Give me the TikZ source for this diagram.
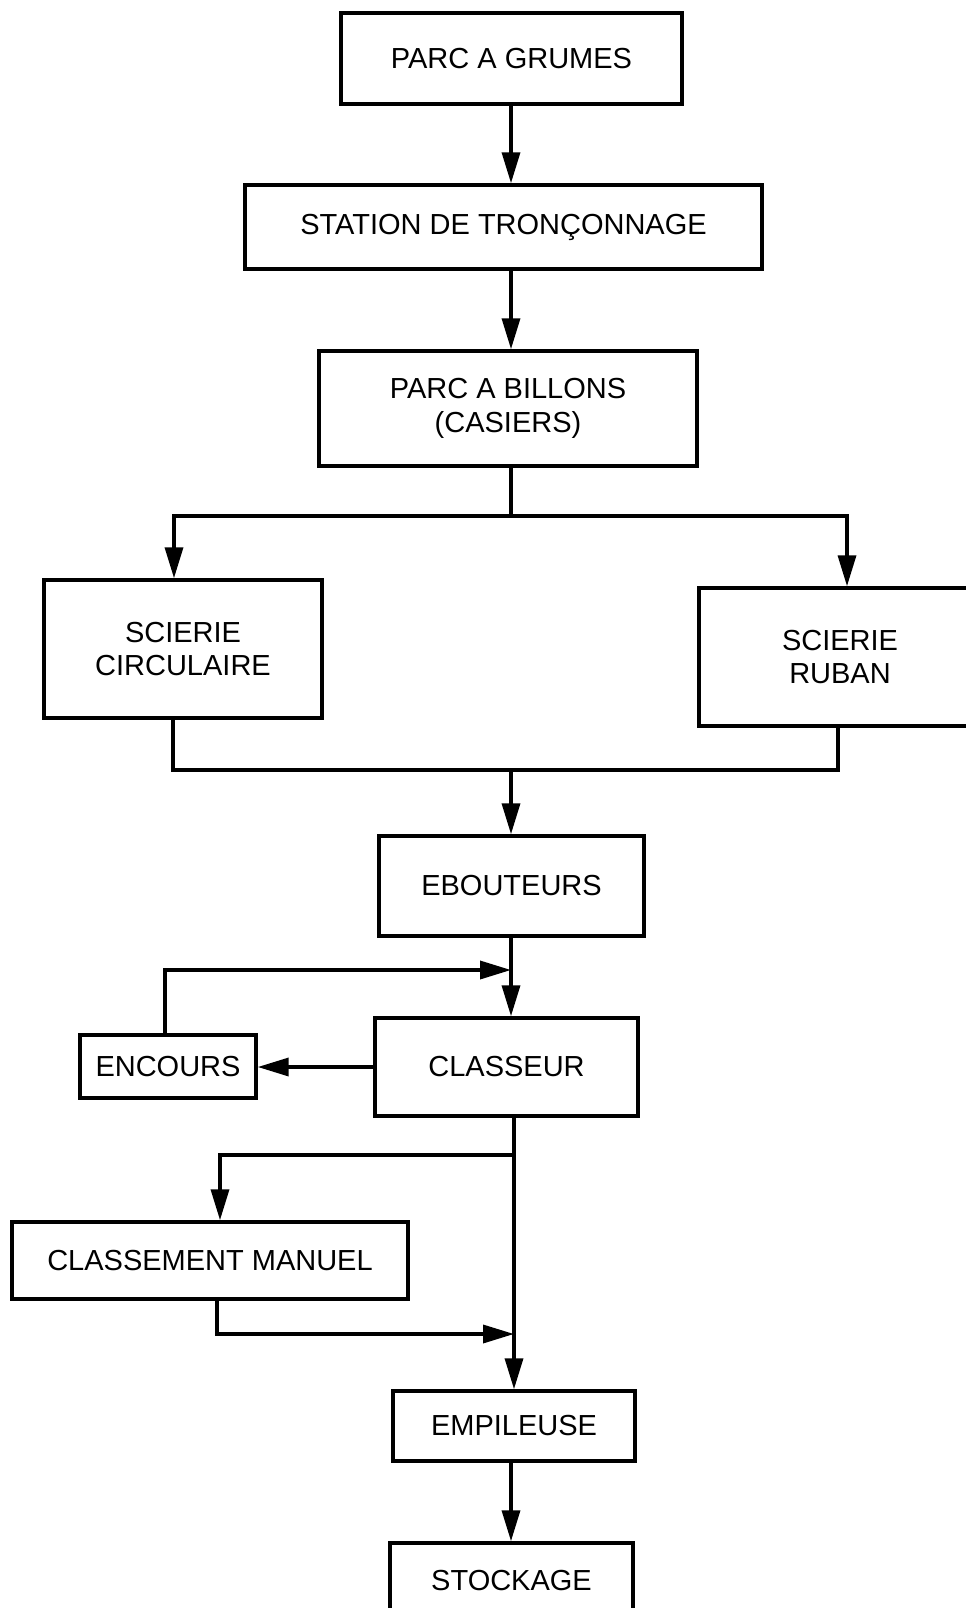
\documentclass[tikz,border=0pt]{standalone}
\usepackage{fontspec}
\setmainfont{Liberation Sans}
\usetikzlibrary{arrows.meta}

\tikzset{
  bloc/.style={draw, line width=2pt, align=center, inner sep=0pt,
    font=\fontsize{16.5}{19}\selectfont},
}

\begin{document}
\begin{tikzpicture}[x=0.02cm, y=-0.02cm, line width=2pt, >={Triangle[length=0.62cm, width=0.36cm]}]
    % cadre de la page
    \useasboundingbox (0,0) rectangle (966,1608);
    \clip (0,0) rectangle (966,1608);

    % axes verticaux de la chaine
    \coordinate (axe) at (511,0);
    \coordinate (axeb) at (514,0);

    % postes
    \node[bloc, minimum width=6.82cm, minimum height=1.82cm] (grumes) at (511.5,58.5) {PARC A GRUMES};
    \node[bloc, minimum width=10.34cm, minimum height=1.68cm] (station) at (503.5,227) {STATION DE TRONÇONNAGE};
    \node[bloc, minimum width=7.56cm, minimum height=2.30cm] (billons) at (508,408.5) {PARC A BILLONS\\(CASIERS)};
    \node[bloc, minimum width=5.56cm, minimum height=2.76cm] (circulaire) at (183,649) {SCIERIE\\CIRCULAIRE};
    \node[bloc, minimum width=5.64cm, minimum height=2.76cm] (ruban) at (840,657) {SCIERIE\\RUBAN};
    \node[bloc, minimum width=5.30cm, minimum height=2.00cm] (ebouteurs) at (511.5,886) {EBOUTEURS};
    \node[bloc, minimum width=3.52cm, minimum height=1.26cm] (encours) at (168,1066.5) {ENCOURS};
    \node[bloc, minimum width=5.26cm, minimum height=1.96cm] (classeur) at (506.5,1067) {CLASSEUR};
    \node[bloc, minimum width=7.92cm, minimum height=1.54cm] (manuel) at (210,1260.5) {CLASSEMENT MANUEL};
    \node[bloc, minimum width=4.84cm, minimum height=1.40cm] (empileuse) at (514,1426) {EMPILEUSE};
    \node[bloc, minimum width=4.86cm, minimum height=1.52cm] (stockage) at (511.5,1581) {STOCKAGE};

    % partie haute
    \draw[->] (axe |- grumes.south) -- (axe |- station.north);
    \draw[->] (axe |- station.south) -- (axe |- billons.north);

    % repartition vers les scies
    \coordinate (sL) at (174,516);
    \coordinate (sR) at (847,516);
    \draw (axe |- billons.south) -- (axe |- sL);
    \draw[->] (axe |- sL) -- (sL) -- (sL |- circulaire.north);
    \draw[->] (axe |- sR) -- (sR) -- (sR |- ruban.north);

    % regroupement apres les scies
    \coordinate (jL) at (173,770);
    \coordinate (jR) at (838,770);
    \draw (jL |- circulaire.south) -- (jL) -- (jR) -- (jR |- ruban.south);
    \draw[->] (axe |- jL) -- (axe |- ebouteurs.north);

    % classeur et encours
    \coordinate (retour) at (165,970);
    \draw[->] (axe |- ebouteurs.south) -- (axe |- classeur.north);
    \draw[->] (classeur.west) -- (classeur.west -| encours.east);
    \draw[->] (retour |- encours.north) -- (retour) -- (axe |- retour);

    % classement manuel
    \coordinate (tri) at (220,1155);
    \coordinate (retri) at (217,1334);
    \draw[->] (axeb |- classeur.south) -- (axeb |- empileuse.north);
    \draw[->] (axeb |- tri) -- (tri) -- (tri |- manuel.north);
    \draw[->] (retri |- manuel.south) -- (retri) -- (axeb |- retri);

    % stockage
    \draw[->] (axe |- empileuse.south) -- (axe |- stockage.north);
\end{tikzpicture}
\end{document}
